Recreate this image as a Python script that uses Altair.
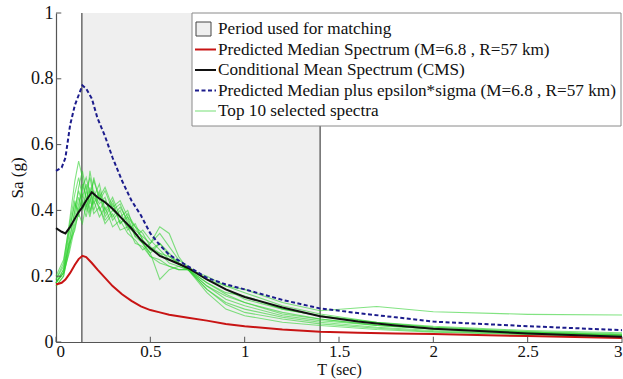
import altair as alt
import pandas as pd

# ---- data ----
T_main = [0, 0.03, 0.05, 0.075, 0.1, 0.12, 0.14, 0.16, 0.19, 0.22, 0.26, 0.3, 0.35, 0.4, 0.45,
          0.5, 0.55, 0.6, 0.7, 0.8, 0.9, 1.0, 1.2, 1.4, 1.6, 1.8, 2.0, 2.5, 3.0]
median = [0.175, 0.18, 0.19, 0.21, 0.235, 0.252, 0.262, 0.258, 0.24, 0.22, 0.195, 0.17, 0.145, 0.125, 0.108,
          0.097, 0.09, 0.083, 0.074, 0.065, 0.055, 0.048, 0.038, 0.031, 0.028, 0.026, 0.024, 0.018, 0.012]
cms = [0.346, 0.335, 0.33, 0.35, 0.375, 0.395, 0.41, 0.43, 0.455, 0.44, 0.425, 0.405, 0.375, 0.345, 0.31,
       0.285, 0.262, 0.25, 0.225, 0.19, 0.16, 0.137, 0.105, 0.078, 0.062, 0.05, 0.04, 0.026, 0.016]
median_eps = [0.52, 0.53, 0.56, 0.66, 0.72, 0.75, 0.78, 0.77, 0.74, 0.68, 0.625, 0.56, 0.49, 0.43, 0.385,
              0.33, 0.295, 0.265, 0.23, 0.195, 0.175, 0.16, 0.128, 0.102, 0.088, 0.075, 0.062, 0.048, 0.036]

T_sel = [0, 0.04, 0.07, 0.1, 0.12, 0.14, 0.16, 0.18, 0.2, 0.23, 0.26, 0.3, 0.34, 0.38, 0.42, 0.46,
         0.5, 0.55, 0.6, 0.65, 0.7, 0.8, 0.9, 1.0, 1.2, 1.4, 1.7, 2.0, 2.5, 3.0]
sel1 = [0.18, 0.21, 0.30, 0.40, 0.47, 0.52, 0.46, 0.50, 0.44, 0.48, 0.40, 0.44, 0.38, 0.40, 0.33, 0.30,
        0.27, 0.30, 0.26, 0.24, 0.22, 0.19, 0.17, 0.16, 0.12, 0.095, 0.108, 0.092, 0.084, 0.082]
sel2 = [0.19, 0.24, 0.36, 0.49, 0.55, 0.50, 0.43, 0.47, 0.40, 0.45, 0.38, 0.42, 0.36, 0.38, 0.32, 0.30,
        0.26, 0.24, 0.23, 0.22, 0.22, 0.17, 0.14, 0.12, 0.09, 0.07, 0.05, 0.04, 0.028, 0.02]
sel3 = [0.17, 0.20, 0.28, 0.38, 0.44, 0.40, 0.46, 0.42, 0.50, 0.43, 0.46, 0.40, 0.42, 0.36, 0.34, 0.32,
        0.30, 0.35, 0.33, 0.26, 0.22, 0.16, 0.12, 0.10, 0.075, 0.06, 0.045, 0.035, 0.025, 0.018]
sel4 = [0.18, 0.22, 0.33, 0.43, 0.38, 0.45, 0.41, 0.52, 0.45, 0.42, 0.44, 0.37, 0.40, 0.34, 0.36, 0.31,
        0.28, 0.27, 0.24, 0.23, 0.22, 0.15, 0.10, 0.08, 0.06, 0.05, 0.038, 0.03, 0.022, 0.015]
sel5 = [0.20, 0.25, 0.35, 0.45, 0.50, 0.44, 0.48, 0.40, 0.43, 0.38, 0.41, 0.35, 0.37, 0.33, 0.31, 0.28,
        0.30, 0.33, 0.29, 0.25, 0.23, 0.19, 0.16, 0.13, 0.10, 0.08, 0.06, 0.045, 0.032, 0.025]
sel6 = [0.18, 0.21, 0.31, 0.40, 0.46, 0.42, 0.38, 0.44, 0.39, 0.41, 0.36, 0.39, 0.34, 0.35, 0.33, 0.30,
        0.27, 0.19, 0.22, 0.23, 0.22, 0.20, 0.17, 0.15, 0.11, 0.085, 0.06, 0.048, 0.035, 0.028]
sel7 = [0.17, 0.20, 0.29, 0.36, 0.42, 0.47, 0.50, 0.45, 0.49, 0.44, 0.47, 0.41, 0.43, 0.38, 0.35, 0.33,
        0.29, 0.27, 0.26, 0.24, 0.22, 0.18, 0.15, 0.14, 0.10, 0.08, 0.058, 0.045, 0.03, 0.022]
sel8 = [0.19, 0.23, 0.34, 0.42, 0.40, 0.48, 0.44, 0.39, 0.46, 0.40, 0.43, 0.38, 0.41, 0.37, 0.32, 0.34,
        0.31, 0.28, 0.25, 0.24, 0.22, 0.17, 0.13, 0.11, 0.08, 0.065, 0.05, 0.04, 0.028, 0.02]
sel9 = [0.18, 0.22, 0.30, 0.34, 0.40, 0.43, 0.40, 0.46, 0.42, 0.46, 0.39, 0.43, 0.36, 0.39, 0.35, 0.31,
        0.28, 0.30, 0.27, 0.24, 0.22, 0.16, 0.115, 0.09, 0.07, 0.055, 0.042, 0.032, 0.024, 0.016]
sel10 = [0.18, 0.21, 0.27, 0.35, 0.39, 0.36, 0.42, 0.38, 0.44, 0.41, 0.37, 0.40, 0.38, 0.35, 0.30, 0.29,
         0.26, 0.25, 0.23, 0.22, 0.22, 0.18, 0.145, 0.12, 0.085, 0.07, 0.052, 0.04, 0.03, 0.022]
selected = [sel1, sel2, sel3, sel4, sel5, sel6, sel7, sel8, sel9, sel10]

match_range = [0.137, 1.4]
x_ticks = [0, 0.5, 1, 1.5, 2, 2.5, 3]
y_ticks = [0, 0.2, 0.4, 0.6, 0.8, 1]
legend_labels = [
    "Period used for matching",
    "Predicted Median Spectrum (M=6.8 , R=57 km)",
    "Conditional Mean Spectrum (CMS)",
    "Predicted Median plus epsilon*sigma (M=6.8 , R=57 km)",
    "Top 10 selected spectra",
]

FONT = "Liberation Serif"
W, H = 566, 329
GREEN = "#2fd12f"

xs = alt.Scale(domain=[0, 3], nice=False)
ys = alt.Scale(domain=[0, 1], nice=False)
xaxis = alt.Axis(title="T (sec)", values=x_ticks, labelExpr="datum.value",
                 tickSize=0, labelPadding=1, domainColor="#555", grid=False, titlePadding=2,
                 labelFontSize=17, titleFontSize=16)
yaxis = alt.Axis(title="Sa (g)", values=y_ticks, labelExpr="datum.value",
                 tickSize=0, labelPadding=3, domainColor="#555", grid=False, titlePadding=4,
                 labelFontSize=18, titleFontSize=17)


def X(field):
    return alt.X(field, scale=xs, axis=xaxis)


def Y(field):
    return alt.Y(field, scale=ys, axis=yaxis)


main_df = pd.DataFrame({"T": T_main, "median": median, "cms": cms, "eps": median_eps})
sel_df = pd.DataFrame(
    [{"T": t, "Sa": v, "id": i} for i, s in enumerate(selected) for t, v in zip(T_sel, s)]
)

shade = alt.Chart(pd.DataFrame({"a": [match_range[0]], "b": [match_range[1]], "y0": [0], "y1": [1]})).mark_rect(
    color="#efefef").encode(x=X("a:Q"), x2="b:Q", y=Y("y0:Q"), y2="y1:Q")

vlines = alt.Chart(pd.DataFrame({"T": match_range})).mark_rule(color="#6a6a6a", strokeWidth=1.5).encode(
    x=X("T:Q"))

sel_lines = alt.Chart(sel_df).mark_line(color=GREEN, strokeWidth=1.1, opacity=0.6).encode(
    x=X("T:Q"), y=Y("Sa:Q"), detail="id:N")


def curve(col, color, width=2, dash=None):
    kw = dict(color=color, strokeWidth=width)
    if dash:
        kw["strokeDash"] = dash
    return alt.Chart(main_df).mark_line(**kw).encode(x=X("T:Q"), y=Y(f"{col}:Q"))


red = curve("median", "#c81414")
black = curve("cms", "#111111")
blue = curve("eps", "#1c1c8c", 2, [4, 2.5])

xtick_df = pd.DataFrame({"T": x_ticks, "y0": [0] * len(x_ticks), "y1": [0.016] * len(x_ticks)})
xt = alt.Chart(xtick_df).mark_rule(color="#555").encode(x=X("T:Q"), y=Y("y0:Q"), y2="y1:Q")
ytick_df = pd.DataFrame({"S": y_ticks, "x0": [0] * len(y_ticks), "x1": [0.028] * len(y_ticks)})
yt = alt.Chart(ytick_df).mark_rule(color="#555").encode(y=Y("S:Q"), x=X("x0:Q"), x2="x1:Q")

# ---- legend (pixel positions inside plot area) ----
box = alt.Chart(pd.DataFrame({"x": [136], "x2": [565], "y": [0], "y2": [113]})).mark_rect(
    fill="white", stroke="#8a8a8a", strokeWidth=1).encode(
    x=alt.X("x:Q", scale=None), x2="x2:Q", y=alt.Y("y:Q", scale=None), y2="y2:Q")

row_y = [16, 36.5, 57, 77.5, 98]
patch = alt.Chart(pd.DataFrame({"x": [140], "x2": [155], "y": [row_y[0] - 7], "y2": [row_y[0] + 7]})).mark_rect(
    fill="#efefef", stroke="#444", strokeWidth=1).encode(
    x=alt.X("x:Q", scale=None), x2="x2:Q", y=alt.Y("y:Q", scale=None), y2="y2:Q")


def leg_line(yv, color, width, dash=None, opacity=1.0):
    kw = dict(color=color, strokeWidth=width, opacity=opacity)
    if dash:
        kw["strokeDash"] = dash
    return alt.Chart(pd.DataFrame({"x": [139], "x2": [160], "y": [yv]})).mark_rule(**kw).encode(
        x=alt.X("x:Q", scale=None), x2="x2:Q", y=alt.Y("y:Q", scale=None))


leg_lines = [
    leg_line(row_y[1], "#c81414", 2),
    leg_line(row_y[2], "#111111", 2),
    leg_line(row_y[3], "#1c1c8c", 2, [4, 2.5]),
    leg_line(row_y[4], GREEN, 1.1, None, 0.6),
]

leg_text = alt.Chart(pd.DataFrame({"label": legend_labels, "y": row_y, "x": [162] * 5})).mark_text(
    align="left", baseline="middle", font=FONT, fontSize=17.2, color="#111").encode(
    x=alt.X("x:Q", scale=None), y=alt.Y("y:Q", scale=None), text="label:N")

chart = alt.layer(
    shade, vlines, sel_lines, red, black, blue, xt, yt, box, patch, *leg_lines, leg_text
).properties(
    width=W, height=H,
    autosize=alt.AutoSizeParams(type="none"),
    padding={"left": 56, "top": 13, "right": 1, "bottom": 37},
).configure_view(stroke=None).configure_axis(
    labelFont=FONT, labelColor="#111", titleFont=FONT,
    titleFontWeight="normal", titleColor="#111", domainWidth=1.2
).configure_axisY(labelBaseline="middle")

chart.save("out.html", embed_options={"renderer": "svg", "actions": False})
